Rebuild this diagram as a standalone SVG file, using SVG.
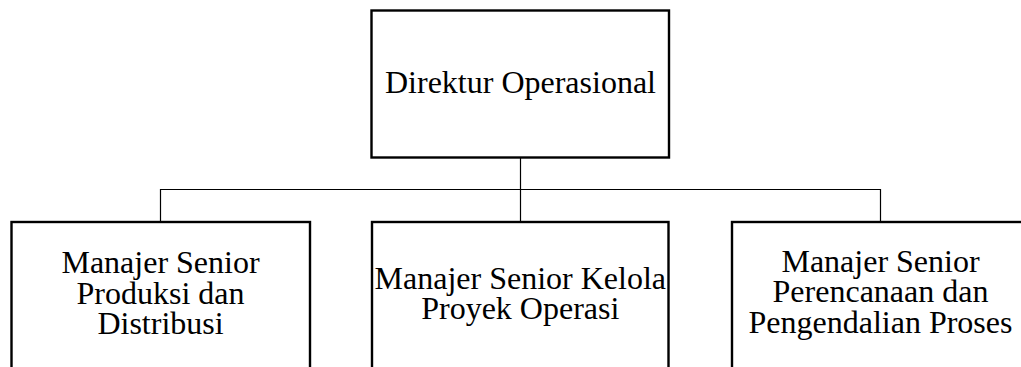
<svg xmlns="http://www.w3.org/2000/svg" width="1021" height="367" viewBox="0 0 1021 367">
  <style>
    .box { fill: #ffffff; stroke: #000000; stroke-width: 2.4; }
    .link { fill: none; stroke: #000000; stroke-width: 1.2; }
    .label { font-family: "Liberation Serif", "Times New Roman", serif; font-size: 32px; fill: #000000; text-anchor: middle; }
  </style>
  <rect width="1021" height="367" fill="#ffffff"/>

  <!-- connectors -->
  <g id="connectors">
    <line class="link" x1="520.5" y1="158" x2="520.5" y2="222"/>
    <polyline class="link" points="160.5,222 160.5,189.5 880.5,189.5 880.5,222"/>
  </g>

  <g id="direktur-operasional">
    <rect class="box" x="371.5" y="10.5" width="297.5" height="147"/>
    <text class="label" x="520.5" y="93">Direktur Operasional</text>
  </g>

  <g id="produksi-distribusi">
    <rect class="box" x="11.5" y="222" width="298.5" height="160"/>
    <text class="label" x="160.5" y="273.3">Manajer Senior</text>
    <text class="label" x="160.5" y="303.6">Produksi dan</text>
    <text class="label" x="160.5" y="334">Distribusi</text>
  </g>

  <g id="kelola-proyek">
    <rect class="box" x="372" y="222" width="296.5" height="160"/>
    <text class="label" x="520.3" y="288.5">Manajer Senior Kelola</text>
    <text class="label" x="520.3" y="319.3">Proyek Operasi</text>
  </g>

  <g id="perencanaan-pengendalian">
    <rect class="box" x="732" y="222" width="299" height="160"/>
    <text class="label" x="880.5" y="271.5">Manajer Senior</text>
    <text class="label" x="880.5" y="302">Perencanaan dan</text>
    <text class="label" x="880.5" y="332.5">Pengendalian Proses</text>
  </g>
</svg>
